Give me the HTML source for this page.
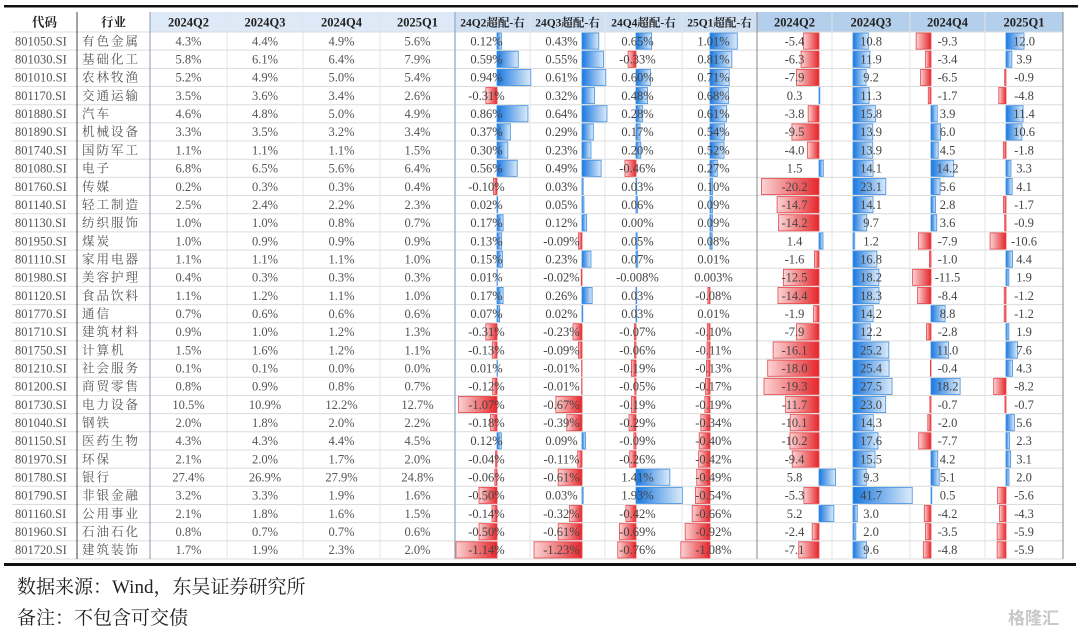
<!DOCTYPE html>
<html><head><meta charset="utf-8">
<style>
html,body{margin:0;padding:0;background:#fff;width:1080px;height:633px;overflow:hidden}
svg{display:block}
.foot{position:absolute;left:17px;font-family:"Liberation Serif","Noto Serif CJK SC",serif;font-size:19px;color:#222}
</style></head>
<body>
<svg id="tbl" width="1080" height="633" xmlns="http://www.w3.org/2000/svg">
<defs>
<linearGradient id="gPos" x1="0" x2="1" y1="0" y2="0"><stop offset="0" stop-color="#1a78e0"/><stop offset="1" stop-color="#dcebf9"/></linearGradient>
<linearGradient id="gNeg" x1="0" x2="1" y1="0" y2="0"><stop offset="0" stop-color="#fbd4d4"/><stop offset="1" stop-color="#e5262b"/></linearGradient>
</defs>
</svg>
<div class="foot" style="top:572px">数据来源：Wind，东吴证券研究所</div>
<div class="foot" style="top:603px">备注：不包含可交债</div>
<div style="position:absolute;left:1008px;top:604px;font-family:'Noto Sans CJK SC',sans-serif;font-size:17px;color:#c8c8c8;font-weight:bold">格隆汇</div>
<script>
const codes=["801050.SI","801030.SI","801010.SI","801170.SI","801880.SI","801890.SI","801740.SI","801080.SI","801760.SI","801140.SI","801130.SI","801950.SI","801110.SI","801980.SI","801120.SI","801770.SI","801710.SI","801750.SI","801210.SI","801200.SI","801730.SI","801040.SI","801150.SI","801970.SI","801780.SI","801790.SI","801160.SI","801960.SI","801720.SI"];
const industries=["有色金属","基础化工","农林牧渔","交通运输","汽车","机械设备","国防军工","电子","传媒","轻工制造","纺织服饰","煤炭","家用电器","美容护理","食品饮料","通信","建筑材料","计算机","社会服务","商贸零售","电力设备","钢铁","医药生物","环保","银行","非银金融","公用事业","石油石化","建筑装饰"];
const headers=["代码","行业","2024Q2","2024Q3","2024Q4","2025Q1","24Q2超配-右","24Q3超配-右","24Q4超配-右","25Q1超配-右","2024Q2","2024Q3","2024Q4","2025Q1"];
const weightQ2=[4.3,5.8,5.2,3.5,4.6,3.3,1.1,6.8,0.2,2.5,1.0,1.0,1.1,0.4,1.1,0.7,0.9,1.5,0.1,0.8,10.5,2.0,4.3,2.1,27.4,3.2,2.1,0.8,1.7];
const weightQ3=[4.4,6.1,4.9,3.6,4.8,3.5,1.1,6.5,0.3,2.4,1.0,0.9,1.1,0.3,1.2,0.6,1.0,1.6,0.1,0.9,10.9,1.8,4.3,2.0,26.9,3.3,1.8,0.7,1.9];
const weightQ4=[4.9,6.4,5.0,3.4,5.0,3.2,1.1,5.6,0.3,2.2,0.8,0.9,1.1,0.3,1.1,0.6,1.2,1.2,0.0,0.8,12.2,2.0,4.4,1.7,27.9,1.9,1.6,0.7,2.3];
const weightQ1=[5.6,7.9,5.4,2.6,4.9,3.4,1.5,6.4,0.4,2.3,0.7,0.9,1.0,0.3,1.0,0.6,1.3,1.1,0.0,0.7,12.7,2.2,4.5,2.0,24.8,1.6,1.5,0.6,2.0];
const overQ2=[0.12,0.59,0.94,-0.31,0.86,0.37,0.30,0.56,-0.10,0.02,0.17,0.13,0.15,0.01,0.17,0.07,-0.31,-0.13,0.01,-0.12,-1.07,-0.18,0.12,-0.04,-0.06,-0.50,-0.14,-0.50,-1.14];
const overQ3=[0.43,0.55,0.61,0.32,0.64,0.29,0.23,0.49,0.03,0.05,0.12,-0.09,0.23,-0.02,0.26,0.02,-0.23,-0.09,-0.01,-0.01,-0.67,-0.39,0.09,-0.11,-0.61,0.03,-0.32,-0.61,-1.23];
const overQ4=[0.65,-0.33,0.60,0.48,0.28,0.17,0.20,-0.46,0.03,0.06,0.00,0.05,0.07,-0.008,0.03,0.03,-0.07,-0.06,-0.19,-0.05,-0.19,-0.29,-0.09,-0.26,1.41,1.93,-0.42,-0.69,-0.76];
const overQ1=[1.01,0.81,0.71,0.68,0.61,0.54,0.52,0.27,0.10,0.09,0.09,0.08,0.01,0.003,-0.08,0.01,-0.10,-0.11,-0.13,-0.17,-0.19,-0.34,-0.40,-0.42,-0.49,-0.54,-0.66,-0.92,-1.08];
const chgQ2=[-5.4,-6.3,-7.9,0.3,-3.8,-9.5,-4.0,1.5,-20.2,-14.7,-14.2,1.4,-1.6,-12.5,-14.4,-1.9,-7.9,-16.1,-18.0,-19.3,-11.7,-10.1,-10.2,-9.4,5.8,-5.3,5.2,-2.4,-7.1];
const chgQ3=[10.8,11.9,9.2,11.3,15.8,13.9,13.9,14.1,23.1,14.1,9.7,1.2,16.8,18.2,18.3,14.2,12.2,25.2,25.4,27.5,23.0,14.3,17.6,15.5,9.3,41.7,3.0,2.0,9.6];
const chgQ4=[-9.3,-3.4,-6.5,-1.7,3.9,6.0,4.5,14.2,5.6,2.8,3.6,-7.9,-1.0,-11.5,-8.4,8.8,-2.8,11.0,-0.4,18.2,-0.7,-2.0,-7.7,4.2,5.1,0.5,-4.2,-3.5,-4.8];
const chgQ1=[12.0,3.9,-0.9,-4.8,11.4,10.6,-1.8,3.3,4.1,-1.7,-0.9,-10.6,4.4,1.9,-1.2,-1.2,1.9,7.6,4.3,-8.2,-0.7,5.6,2.3,3.1,2.0,-5.6,-4.3,-5.9,-5.9];

const NS="http://www.w3.org/2000/svg";
const svg=document.getElementById('tbl');
const colX=[12,77,150,227,303,380,455,530,605,682,757,832,910,985,1063];
const top0=12,headH=20,bottom=559;
const n=codes.length,rowH=(bottom-top0-headH)/n;
function el(t,a){const e=document.createElementNS(NS,t);for(const k in a)e.setAttribute(k,a[k]);svg.appendChild(e);return e;}
const serif='"Liberation Serif","Noto Serif CJK SC",serif';
const hb=el('rect',{x:150,y:top0,width:305,height:headH,fill:'#dde9f6'});


const hb2=el('rect',{x:455,y:top0,width:302,height:headH,fill:'#cfe0f3'});


const hb3=el('rect',{x:757,y:top0,width:306,height:headH,fill:'#b3cfeb'});


for(let i=0;i<=n;i++){const y=top0+headH+i*rowH;const l=el('line',{x1:12,x2:1063,y1:y,y2:y,stroke:'#dcdcdc','stroke-width':1});

}
for(let c=1;c<colX.length;c++){const x=colX[c];let s='#e4e4e4',w=1;
if(c===1){s='#444';} if(c===2){s='#8a9bb0';} if(c===6){s='#9db6d2';w=1.5;} if(c===10){s='#888';} if(c===14){s='#888';}
const l=el('line',{x1:x,x2:x,y1:top0,y2:bottom,stroke:s,'stroke-width':w});

}
headers.forEach((h,c)=>{const t=el('text',{x:(colX[c]+colX[c+1])/2,y:top0+14.5,'text-anchor':'middle','font-family':serif,'font-size':(c>=6&&c<=9)?11.5:12.5,'font-weight':'bold',fill:'#222'});t.textContent=h;

});
const barCols=[overQ2,overQ3,overQ4,overQ1,chgQ2,chgQ3,chgQ4,chgQ1];
const axisX=[497,582,636,710,819,853,931,1006];
const scale=[36,39,24,27,2.85,1.42,1.6,1.5];
function fmtPct(v){const a=Math.abs(v);return (a>0&&a<0.01?v.toFixed(3):v.toFixed(2))+'%';}
for(let i=0;i<n;i++){
  const y=top0+headH+i*rowH, cy=y+rowH/2+4.3;
  const ct=el('text',{x:15,y:cy,'font-family':serif,'font-size':12.5,fill:'#555'});ct.textContent=codes[i];
  
  
  const it=el('text',{x:82,y:cy,'font-family':serif,'font-size':12.5,fill:'#555','letter-spacing':'2'});it.textContent=industries[i];
  
  
  [weightQ2,weightQ3,weightQ4,weightQ1].forEach((arr,k)=>{const c=2+k;
    const t=el('text',{x:(colX[c]+colX[c+1])/2,y:cy,'text-anchor':'middle','font-family':serif,'font-size':12.5,fill:'#555'});t.textContent=arr[i].toFixed(1)+'%';
    
    });
  barCols.forEach((arr,k)=>{const v=arr[i];const c=6+k;const ax=axisX[k];const w=Math.abs(v)*scale[k];
    if(w>0.3){const bx=v>=0?ax:ax-w;
      const r=el('rect',{x:bx,y:y+1,width:w,height:rowH-2,fill:v>=0?'url(#gPos)':'url(#gNeg)',stroke:v>=0?'#3f8fe3':'#e8454a','stroke-width':0.8});
      
      }
    const t=el('text',{x:(colX[c]+colX[c+1])/2-(k<4?6:0),y:cy,'text-anchor':'middle','font-family':serif,'font-size':12.5,fill:'#444'});
    t.textContent=k<4?fmtPct(v):v.toFixed(1);
    
    
  });
}
const tl=el('rect',{x:4,y:5,width:1074,height:2.5,fill:'#111'});


const bl=el('rect',{x:4,y:563,width:1072,height:3,fill:'#111'});


</script>
</body></html>
